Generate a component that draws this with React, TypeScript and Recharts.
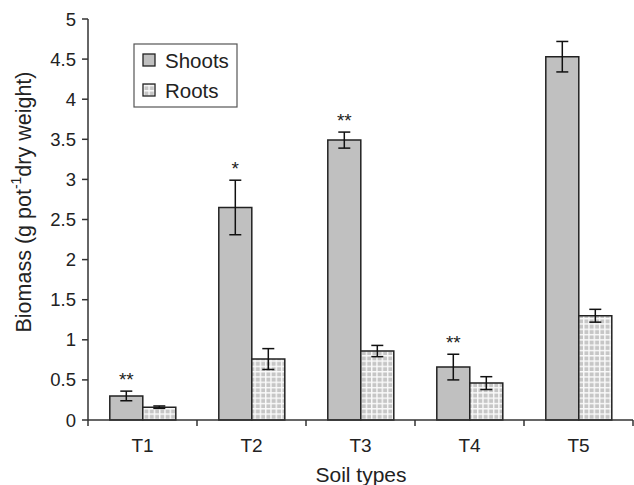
import { BarChart, Bar, XAxis, YAxis, ErrorBar, LabelList, Customized } from "recharts";

const soils = ["T1", "T2", "T3", "T4", "T5"];
const shoots = [0.3, 2.65, 3.49, 0.66, 4.53];
const shootErr = [0.06, 0.34, 0.1, 0.16, 0.19];
const roots = [0.16, 0.76, 0.86, 0.46, 1.3];
const rootErr = [0.015, 0.13, 0.07, 0.08, 0.08];
const signif = ["**", "*", "**", "**", ""];
const seriesNames = ["Shoots", "Roots"];
const yTicks = [0, 0.5, 1, 1.5, 2, 2.5, 3, 3.5, 4, 4.5, 5];

const data = soils.map((s, i) => ({
  soil: s,
  shoot: shoots[i],
  shootErr: shootErr[i],
  root: roots[i],
  rootErr: rootErr[i],
  sig: signif[i],
}));

const FONT = '"Liberation Sans", Arial, sans-serif';
const SHOOT_FILL = "#c0c0c0";
const TICK_SIZE = 6;
const TICK_MARGIN = 13;

function Stars(props: any) {
  const { x, y, width, height, index } = props;
  const label = signif[index];
  if (!label) return null;
  const pxPerUnit = height / shoots[index];
  const top = y - pxPerUnit * shootErr[index];
  return (
    <text x={x + width / 2} y={top - 5} textAnchor="middle" fontFamily={FONT} fontSize={19} fill="#222">
      {label}
    </text>
  );
}

// category label plus tick marks on the band edges
function SoilTick(props: any) {
  const { x, y, payload, index, width, visibleTicksCount } = props;
  const axisY = y - TICK_SIZE - TICK_MARGIN;
  const half = width && visibleTicksCount ? width / visibleTicksCount / 2 : 0;
  return (
    <g>
      {half > 0 && (
        <line x1={x - half} y1={axisY} x2={x - half} y2={axisY + TICK_SIZE} stroke="#333" strokeWidth={1.5} />
      )}
      {half > 0 && index === visibleTicksCount - 1 && (
        <line x1={x + half} y1={axisY} x2={x + half} y2={axisY + TICK_SIZE} stroke="#333" strokeWidth={1.5} />
      )}
      <text x={x} y={y} dy="0.71em" textAnchor="middle" fontFamily={FONT} fontSize={19} fill="#222">
        {payload.value}
      </text>
    </g>
  );
}

function Extras() {
  return (
    <g fontFamily={FONT}>
      <text
        x={24}
        y={202}
        transform="rotate(-90, 24, 202)"
        textAnchor="middle"
        dominantBaseline="central"
        fontSize={21.5}
        fill="#222"
      >
        Biomass (g pot
        <tspan dy={-8} fontSize={14}>-1</tspan>
        <tspan dy={8}>dry weight)</tspan>
      </text>
      <text x={361} y={474} textAnchor="middle" dominantBaseline="central" fontSize={21} fill="#222">
        Soil types
      </text>
      <rect x={134} y={44} width={103} height={63} fill="#fff" stroke="#555" strokeWidth={1.2} />
      {seriesNames.map((name, i) => (
        <g key={name}>
          <rect
            x={143}
            y={54 + i * 30}
            width={12}
            height={12}
            fill={i === 0 ? SHOOT_FILL : "url(#gridPat)"}
            stroke="#222"
            strokeWidth={1.3}
          />
          <text x={165} y={60 + i * 30} dominantBaseline="central" fontSize={20.5} fill="#222">
            {name}
          </text>
        </g>
      ))}
    </g>
  );
}

export default function App() {
  return (
    <div style={{ position: "absolute", left: 0, top: 0, background: "#fff" }}>
      <BarChart
        width={634}
        height={485}
        data={data}
        margin={{ top: 19, right: 1, left: 28, bottom: 35 }}
        barCategoryGap="20%"
        barGap={0}
      >
        <defs>
          <pattern id="gridPat" width={5.3} height={5.3} patternUnits="userSpaceOnUse">
            <rect width={5.3} height={5.3} fill="#fafafa" />
            <rect x={1.4} y={1.4} width={3.9} height={3.9} fill="#c6c6c6" />
          </pattern>
        </defs>
        <XAxis
          dataKey="soil"
          axisLine={{ stroke: "#333", strokeWidth: 1.5 }}
          tickLine={false}
          tickSize={TICK_SIZE}
          tickMargin={TICK_MARGIN}
          height={30}
          interval={0}
          tick={<SoilTick />}
        />
        <YAxis
          domain={[0, 5]}
          ticks={yTicks}
          width={60}
          tickSize={6}
          tickMargin={6}
          axisLine={{ stroke: "#333", strokeWidth: 1.5 }}
          tickLine={{ stroke: "#333", strokeWidth: 1.5 }}
          tick={{ fontSize: 18.5, fill: "#222", fontFamily: FONT }}
        />
        <Bar
          dataKey="shoot"
          name={seriesNames[0]}
          fill={SHOOT_FILL}
          stroke="#222"
          strokeWidth={1.5}
          isAnimationActive={false}
        >
          <ErrorBar dataKey="shootErr" width={6} stroke="#111" strokeWidth={1.5} />
          <LabelList dataKey="sig" content={<Stars />} />
        </Bar>
        <Bar
          dataKey="root"
          name={seriesNames[1]}
          fill="url(#gridPat)"
          stroke="#222"
          strokeWidth={1.5}
          isAnimationActive={false}
        >
          <ErrorBar dataKey="rootErr" width={6} stroke="#111" strokeWidth={1.5} />
        </Bar>
        <Customized component={<Extras />} />
      </BarChart>
    </div>
  );
}
